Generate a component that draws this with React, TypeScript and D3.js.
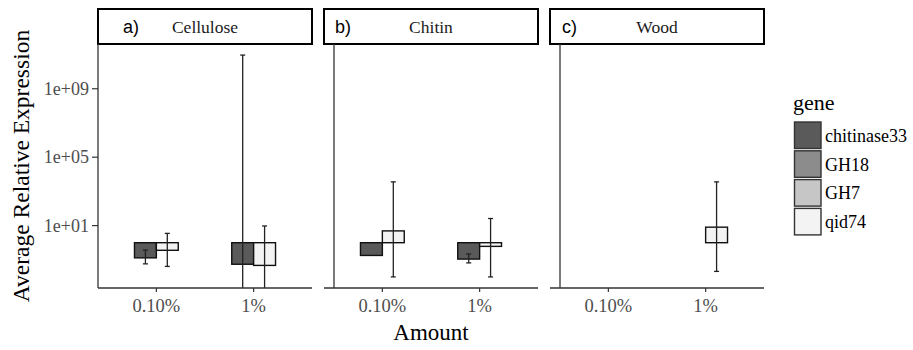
import React from "react";
import * as d3 from "d3";

// facets, x categories, genes
const substrates = ["Cellulose", "Chitin", "Wood"];
const panelTags = ["a)", "b)", "c)"];
const amounts = ["0.10%", "1%"];
const genes = ["chitinase33", "GH18", "GH7", "qid74"];
const geneFills = ["#5a5a5a", "#8c8c8c", "#c6c6c6", "#f3f3f3"];

// [substrate][amount]; null = no bar, 0 lower = error bar runs below the axis
const meanChitinase33 = [[0.13, 0.055], [0.18, 0.11], [null, null]];
const lowChitinase33 = [[0.058, 0], [null, 0.066], [null, null]];
const highChitinase33 = [[0.37, 9.3e10], [null, 0.22], [null, null]];

const meanQid74 = [[0.36, 0.047], [4.9, 0.61], [null, 8.1]];
const lowQid74 = [[0.041, 0], [0.01, 0.01], [null, 0.021]];
const highQid74 = [[3.5, 9.5], [3600, 26], [null, 3600]];

const yTicks = [1e1, 1e5, 1e9];

const serif = "'Liberation Serif', 'Times New Roman', serif";

export default function App() {
  const W = 913, H = 350;
  const panL = 98, panW = 214, gap = 12;
  const stripTop = 9, stripH = 35;
  const plotTop = stripTop + stripH, plotBot = 288;

  // one record per drawn bar
  const rows: any[] = [];
  substrates.forEach((s, si) => {
    amounts.forEach((a, ai) => {
      rows.push({ s: si, a, gene: "chitinase33", side: -1, mean: meanChitinase33[si][ai], lo: lowChitinase33[si][ai], hi: highChitinase33[si][ai] });
      rows.push({ s: si, a, gene: "qid74", side: 1, mean: meanQid74[si][ai], lo: lowQid74[si][ai], hi: highQid74[si][ai] });
    });
  });

  // log y with ggplot-like 5% expansion
  const logs: number[] = [];
  rows.forEach(r => {
    if (r.mean != null) logs.push(Math.log10(r.mean));
    if (r.lo) logs.push(Math.log10(r.lo));
    if (r.hi) logs.push(Math.log10(r.hi));
  });
  const [l0, l1] = d3.extent(logs) as [number, number];
  const pad = (l1 - l0) * 0.05;
  const y = d3.scaleLog().domain([10 ** (l0 - pad), 10 ** (l1 + pad)]).range([plotBot, plotTop]);

  const x = d3.scalePoint<string>().domain(amounts).range([0, panW]).padding(0.6);
  const step = x.step();
  const barW = step * 0.225;
  const capW = 5;

  const color = d3.scaleOrdinal<string, string>().domain(genes).range(geneFills);
  const fmt = (v: number) => "1e+" + String(Math.round(Math.log10(v))).padStart(2, "0");

  const tagOffsets = [25, 11, 12];

  return (
    <svg width={W} height={H} style={{ position: "absolute", left: 0, top: 0 }}>
      <rect width={W} height={H} fill="#fff" />

      {/* y axis title */}
      <text transform={`translate(29,${(plotTop + plotBot) / 2}) rotate(-90)`} textAnchor="middle"
        fontFamily={serif} fontSize={23.5} fill="#000">Average Relative Expression</text>

      {/* y ticks (first panel only) */}
      {yTicks.map(t => (
        <g key={t}>
          <line x1={panL - 6} x2={panL} y1={y(t)} y2={y(t)} stroke="#333" strokeWidth={1.2} />
          <text x={panL - 9} y={y(t)} dy="0.34em" textAnchor="end" fontFamily={serif} fontSize={18} fill="#4d4d4d">{fmt(t)}</text>
        </g>
      ))}

      {substrates.map((s, si) => {
        const left = panL + si * (panW + gap);
        const axisX = si === 0 ? left : left + 10;
        return (
          <g key={s}>
            {/* strip */}
            <rect x={left} y={stripTop} width={panW} height={stripH} fill="#fff" stroke="#000" strokeWidth={2} />
            <text x={left + tagOffsets[si]} y={stripTop + stripH / 2} dy="0.35em" fontFamily="'Liberation Sans', Arial, sans-serif" fontSize={18} fill="#000">{panelTags[si]}</text>
            <text x={left + panW / 2} y={stripTop + stripH / 2} dy="0.35em" textAnchor="middle" fontFamily={serif} fontSize={17.5} fill="#1a1a1a">{s}</text>

            {/* bars */}
            {rows.filter(r => r.s === si && r.mean != null).map(r => {
              const cx = left + (x(r.a) as number);
              const x0 = r.side < 0 ? cx - barW : cx;
              const y0 = y(1), y1 = y(r.mean);
              return (
                <rect key={r.gene + r.a} x={x0} y={Math.min(y0, y1)} width={barW} height={Math.abs(y1 - y0)}
                  fill={color(r.gene)} stroke="#111" strokeWidth={1.4} />
              );
            })}

            {/* error bars */}
            {rows.filter(r => r.s === si && r.hi != null).map(r => {
              const cx = left + (x(r.a) as number) + r.side * barW / 2;
              const yHi = y(r.hi);
              const yLo = r.lo > 0 ? y(r.lo) : plotBot;
              return (
                <g key={"e" + r.gene + r.a} stroke="#222" strokeWidth={1.3}>
                  <line x1={cx} x2={cx} y1={yHi} y2={yLo} />
                  <line x1={cx - capW / 2} x2={cx + capW / 2} y1={yHi} y2={yHi} />
                  {r.lo > 0 && <line x1={cx - capW / 2} x2={cx + capW / 2} y1={yLo} y2={yLo} />}
                </g>
              );
            })}

            {/* axes */}
            <line x1={axisX} x2={axisX} y1={plotTop} y2={plotBot} stroke="#333" strokeWidth={1.3} />
            <line x1={left} x2={left + panW} y1={plotBot} y2={plotBot} stroke="#333" strokeWidth={1.3} />
            {amounts.map(a => (
              <g key={a}>
                <line x1={left + (x(a) as number)} x2={left + (x(a) as number)} y1={plotBot} y2={plotBot + 4} stroke="#333" strokeWidth={1.2} />
                <text x={left + (x(a) as number)} y={312} textAnchor="middle" fontFamily={serif} fontSize={18.5} fill="#4d4d4d">{a}</text>
              </g>
            ))}
          </g>
        );
      })}

      {/* x axis title */}
      <text x={panL + (3 * panW + 2 * gap) / 2} y={340} textAnchor="middle" fontFamily={serif} fontSize={23} fill="#000">Amount</text>

      {/* legend */}
      <text x={793} y={110} fontFamily={serif} fontSize={22} fill="#000">gene</text>
      {genes.map((g, i) => (
        <g key={g} transform={`translate(794,${121.5 + i * 28.8})`}>
          <rect x={0.5} y={0.5} width={26.5} height={26.5} fill={color(g)} stroke="#333" strokeWidth={1.4} />
          <text x={31} y={14} dy="0.35em" fontFamily={serif} fontSize={18} fill="#000">{g}</text>
        </g>
      ))}
    </svg>
  );
}
